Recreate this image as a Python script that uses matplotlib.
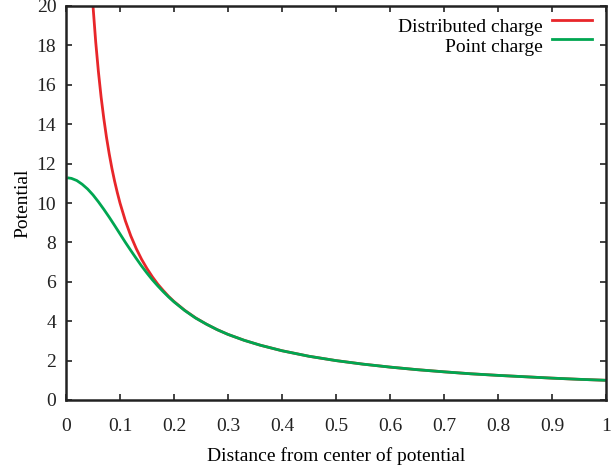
import matplotlib
matplotlib.use("Agg")
import matplotlib.pyplot as plt

plt.rcParams['font.family'] = ['Liberation Serif', 'DejaVu Serif']

# Distributed charge curve samples
dist_x = [0.045, 0.05, 0.055, 0.06, 0.065, 0.07, 0.075, 0.08, 0.085, 0.09, 0.095,
          0.10, 0.11, 0.12, 0.13, 0.14, 0.15, 0.16, 0.17, 0.18, 0.19, 0.20,
          0.22, 0.24, 0.26, 0.28, 0.30, 0.33, 0.36, 0.40, 0.45, 0.50, 0.55,
          0.60, 0.65, 0.70, 0.75, 0.80, 0.85, 0.90, 0.95, 1.00]
dist_y = [22.22, 20.00, 18.18, 16.67, 15.38, 14.29, 13.33, 12.50, 11.76, 11.11, 10.53,
          10.00, 9.09, 8.33, 7.69, 7.14, 6.67, 6.25, 5.88, 5.56, 5.26, 5.00,
          4.55, 4.17, 3.85, 3.57, 3.33, 3.03, 2.78, 2.50, 2.22, 2.00, 1.82,
          1.67, 1.54, 1.43, 1.33, 1.25, 1.18, 1.11, 1.05, 1.00]

# Point charge curve samples
point_x = [0.005, 0.01, 0.02, 0.03, 0.04, 0.05, 0.06, 0.07, 0.08, 0.09,
           0.10, 0.11, 0.12, 0.13, 0.14, 0.15, 0.16, 0.17, 0.18, 0.19, 0.20,
           0.22, 0.24, 0.26, 0.28, 0.30, 0.33, 0.36, 0.40, 0.45, 0.50, 0.55,
           0.60, 0.65, 0.70, 0.75, 0.80, 0.85, 0.90, 0.95, 1.00]
point_y = [11.27, 11.25, 11.14, 10.95, 10.71, 10.41, 10.06, 9.68, 9.28, 8.86,
           8.43, 8.00, 7.59, 7.19, 6.80, 6.44, 6.10, 5.79, 5.50, 5.23, 4.98,
           4.54, 4.16, 3.85, 3.57, 3.33, 3.03, 2.78, 2.50, 2.22, 2.00, 1.82,
           1.67, 1.54, 1.43, 1.33, 1.25, 1.18, 1.11, 1.05, 1.00]

x_ticks = [0, 0.1, 0.2, 0.3, 0.4, 0.5, 0.6, 0.7, 0.8, 0.9, 1]
x_labels = ['0', '0.1', '0.2', '0.3', '0.4', '0.5', '0.6', '0.7', '0.8', '0.9', '1']
y_ticks = [0, 2, 4, 6, 8, 10, 12, 14, 16, 18, 20]

red = '#e8262a'
green = '#00a651'

W, H = 613, 468
L, R, T, B = 66, 606, 6, 400
fig = plt.figure(figsize=(W / 100, H / 100), dpi=100)
ax = fig.add_axes([L / W, (H - B) / H, (R - L) / W, (B - T) / H])

ax.plot(dist_x, dist_y, color=red, lw=2.0)
ax.plot(point_x, point_y, color=green, lw=2.0)

ax.set_xlim(0, 1)
ax.set_ylim(0, 20)
ax.set_xticks(x_ticks)
ax.set_xticklabels(x_labels)
ax.set_yticks(y_ticks)
for s in ax.spines.values():
    s.set_linewidth(1.8)
    s.set_color('#222222')
ax.tick_params(direction='in', length=4, width=1.2, top=True, right=True,
               labelsize=14, colors='#222222')
ax.tick_params(axis='x', pad=13)
ax.tick_params(axis='y', pad=7)
ax.set_xlabel('Distance from center of potential', fontsize=14, labelpad=9)
ax.set_ylabel('Potential', fontsize=14, labelpad=4)

# legend, gnuplot style (text right-aligned, sample line to the right)
entries = [('Distributed charge', red, 20, 32), ('Point charge', green, 39, 51.5)]
for lab, col, ly, ty in entries:
    ax.text((543 - L) / (R - L), 1 - (ty - T) / (B - T), lab, transform=ax.transAxes,
            ha='right', va='baseline', fontsize=14)
    yy = 1 - (ly - T) / (B - T)
    ax.plot([(552 - L) / (R - L), (592 - L) / (R - L)], [yy, yy], transform=ax.transAxes,
            color=col, lw=2.0, clip_on=False)

fig.savefig('out.png', dpi=100)
